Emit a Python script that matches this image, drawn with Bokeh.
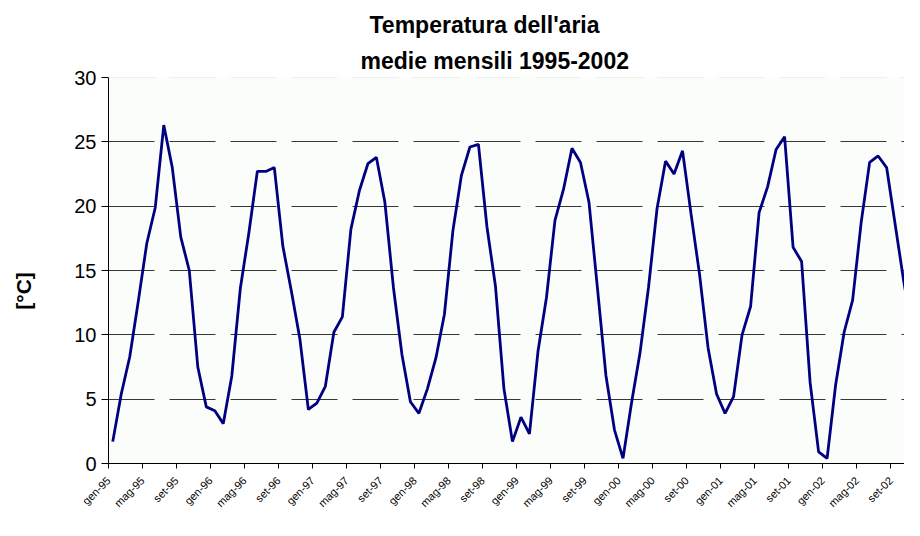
import numpy as np
from bokeh.plotting import figure
from bokeh.models import Range1d, FixedTicker, Title, Span
from bokeh.embed import file_html
from bokeh.resources import INLINE

# Monthly mean air temperature [°C], Jan 1995 - Dec 2002
temps_1995 = [1.7, 5.4, 8.3, 12.6, 17.1, 19.9, 26.3, 23.0, 17.6, 15.0, 7.5, 4.4]
temps_1996 = [4.1, 3.1, 6.8, 13.6, 17.9, 22.7, 22.7, 23.0, 16.9, 13.4, 9.7, 4.2]
temps_1997 = [4.7, 6.0, 10.2, 11.4, 18.2, 21.2, 23.3, 23.8, 20.3, 13.7, 8.5, 4.8]
temps_1998 = [3.9, 5.8, 8.2, 11.6, 18.1, 22.4, 24.6, 24.8, 18.4, 13.8, 5.8, 1.7]
temps_1999 = [3.6, 2.3, 8.7, 12.9, 18.9, 21.3, 24.5, 23.4, 20.3, 13.6, 6.8, 2.6]
temps_2000 = [0.4, 4.7, 8.6, 13.7, 19.8, 23.5, 22.5, 24.3, 19.4, 14.7, 9.0, 5.4]
temps_2001 = [3.9, 5.2, 10.0, 12.2, 19.5, 21.5, 24.4, 25.4, 16.8, 15.7, 6.3, 0.9]
temps_2002 = [0.4, 6.1, 10.2, 12.7, 18.7, 23.4, 23.9, 23.0, 18.6, 14.2, 10.3, 5.0]

temps = (temps_1995 + temps_1996 + temps_1997 + temps_1998 +
         temps_1999 + temps_2000 + temps_2001 + temps_2002)

tick_labels = ["gen-95", "mag-95", "set-95", "gen-96", "mag-96", "set-96",
               "gen-97", "mag-97", "set-97", "gen-98", "mag-98", "set-98",
               "gen-99", "mag-99", "set-99", "gen-00", "mag-00", "set-00",
               "gen-01", "mag-01", "set-01", "gen-02", "mag-02", "set-02"]
y_ticks = [0, 5, 10, 15, 20, 25, 30]

title_line1 = "Temperatura dell'aria"
title_line2 = "medie mensili 1995-2002"
y_label = "[°C]"

# month index -> category centre on a numeric axis (one unit per month)
month_pos = np.arange(len(temps)) + 0.5
label_step = 4
label_pos = [k * label_step for k in range(len(tick_labels))]

FONT = "Liberation Sans"

p = figure(width=904, height=520, output_backend="svg", toolbar_location=None,
           x_range=Range1d(0, 93.6), y_range=Range1d(0, 30),
           min_border_left=108, min_border_right=0,
           min_border_top=77, min_border_bottom=57)

p.background_fill_color = "#fafdfa"
p.border_fill_color = "white"
p.outline_line_color = None

p.line(month_pos, temps, line_color="#000080", line_width=2.8)

# titles (first added sits nearest the plot)
t2 = Title(text=title_line2, align="left", offset=252, standoff=8,
           text_font=FONT, text_font_size="23px", text_font_style="bold",
           text_color="black")
t1 = Title(text=title_line1, align="left", offset=261, standoff=7,
           text_font=FONT, text_font_size="23px", text_font_style="bold",
           text_color="black")
p.add_layout(t2, "above")
p.add_layout(t1, "above")

# grid
p.xgrid.visible = False
p.ygrid.ticker = FixedTicker(ticks=y_ticks[1:-1])
p.ygrid.grid_line_color = "#383838"
p.ygrid.grid_line_width = 1
p.ygrid.grid_line_dash = "46 15"
p.add_layout(Span(location=y_ticks[-1], dimension="width",
                  line_color="#dddddd", line_width=1, line_dash="46 15"))

# y axis
ya = p.yaxis[0]
ya.ticker = FixedTicker(ticks=y_ticks)
ya.major_label_text_font = FONT
ya.major_label_text_font_size = "20px"
ya.major_label_text_color = "black"
ya.major_tick_out = 7
ya.major_tick_in = 0
ya.minor_tick_out = 0
ya.minor_tick_in = 0
ya.major_label_standoff = 5
ya.axis_line_color = "black"
ya.major_tick_line_color = "black"
ya.axis_label = y_label + "\u00a0" * 7
ya.axis_label_text_font = FONT
ya.axis_label_text_font_size = "21px"
ya.axis_label_text_font_style = "bold"
ya.axis_label_text_color = "black"
ya.axis_label_standoff = 36

# x axis
xa = p.xaxis[0]
xa.ticker = FixedTicker(ticks=label_pos)
xa.major_label_overrides = {pos: lab for pos, lab in zip(label_pos, tick_labels)}
xa.major_label_orientation = np.pi / 4
xa.major_label_text_font = FONT
xa.major_label_text_font_size = "11px"
xa.major_label_text_color = "black"
xa.major_label_standoff = 10
xa.major_tick_out = 5
xa.major_tick_in = 0
xa.minor_tick_out = 0
xa.minor_tick_in = 0
xa.axis_line_color = "black"
xa.major_tick_line_color = "black"

open("out.html", "w").write(file_html(p, INLINE))
